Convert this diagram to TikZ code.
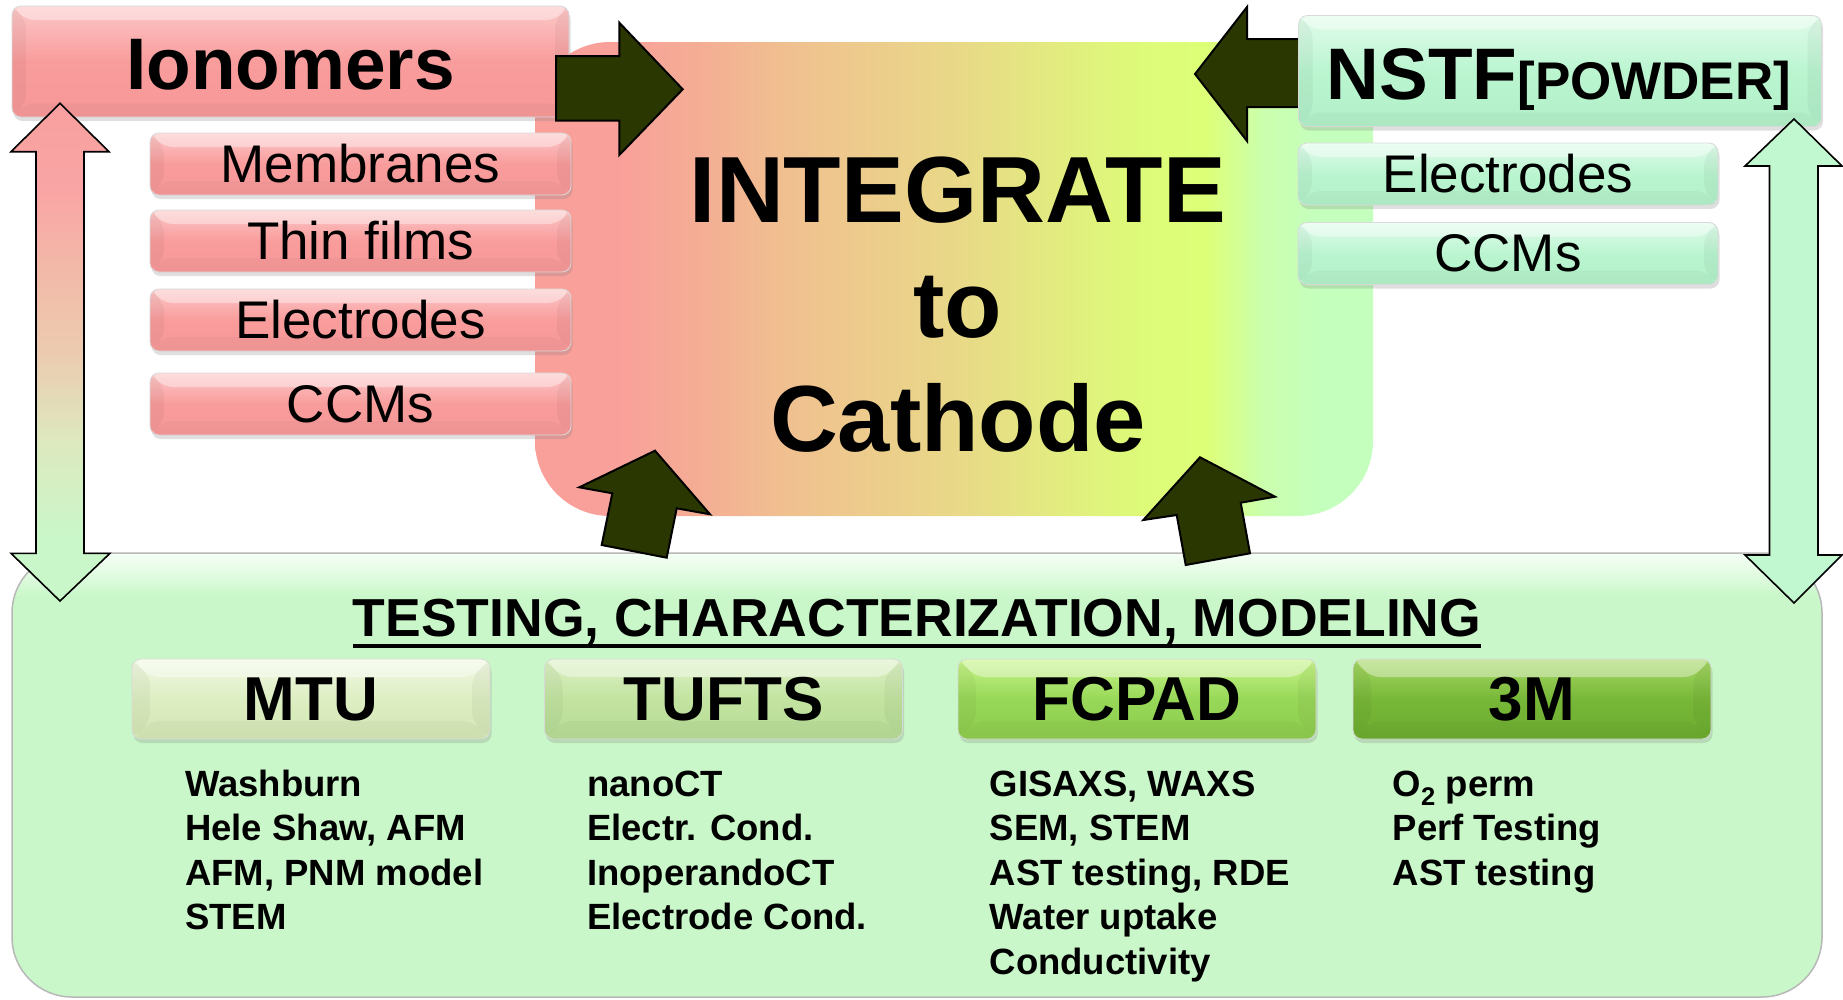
\documentclass[tikz,border=0pt]{standalone}
\usepackage{fontspec}
\setmainfont{Liberation Sans}
\usetikzlibrary{shadows,calc}
\newcommand\myfs[1]{\fontsize{#1}{#1}\selectfont}
% colours
\definecolor{pkA}{HTML}{FCC8C8}
\definecolor{pkB}{HTML}{F99C9C}
\definecolor{pkC}{HTML}{F79898}
\definecolor{mnA}{HTML}{E2FCEC}
\definecolor{mnB}{HTML}{BAF5D0}
\definecolor{mnC}{HTML}{B2F0C9}
\definecolor{mtuA}{HTML}{F2F9E4}
\definecolor{mtuB}{HTML}{DDEEC2}
\definecolor{mtuC}{HTML}{D3E7B4}
\definecolor{tufA}{HTML}{DDF1C6}
\definecolor{tufB}{HTML}{C2E4A0}
\definecolor{tufC}{HTML}{B7DB96}
\definecolor{fcA}{HTML}{C8F58A}
\definecolor{fcB}{HTML}{98D858}
\definecolor{fcC}{HTML}{8DCC4D}
\definecolor{tmA}{HTML}{A6D866}
\definecolor{tmB}{HTML}{78B838}
\definecolor{tmC}{HTML}{6CAB2F}
\definecolor{darkol}{HTML}{2B3700}
\definecolor{mintarrow}{HTML}{C2F8D0}
\definecolor{botgreen}{HTML}{C9F7C9}
\definecolor{botwhite}{HTML}{F6FFF6}
\definecolor{cpk}{HTML}{F9A09A}
\definecolor{csal}{HTML}{F4AE94}
\definecolor{ctan}{HTML}{F0C090}
\definecolor{cmid}{HTML}{E9D888}
\definecolor{cyg}{HTML}{DEF87A}
\definecolor{cyel}{HTML}{DDFF77}
\definecolor{cgl}{HTML}{CBFFAE}
\definecolor{cgr}{HTML}{C4FFBE}
\definecolor{laA}{HTML}{F9A0A0}
\definecolor{laB}{HTML}{F9A5A5}
\definecolor{laC}{HTML}{F3B8A8}
\definecolor{laD}{HTML}{ECCBB0}
\definecolor{laE}{HTML}{DDE9BF}
\definecolor{laF}{HTML}{C9F7C9}
\pgfdeclarehorizontalshading{centgrad}{100bp}{color(0bp)=(cpk); color(25bp)=(cpk); color(30bp)=(cpk); color(35bp)=(csal); color(40bp)=(ctan); color(50bp)=(cmid); color(60bp)=(cyg); color(65bp)=(cyel); color(68.5bp)=(cgl); color(72bp)=(cgr); color(100bp)=(cgr)}
\pgfdeclareverticalshading{botgrad}{100bp}{color(0bp)=(botgreen); color(25bp)=(botgreen); color(70bp)=(botgreen); color(75bp)=(botwhite); color(100bp)=(botwhite)}
\pgfdeclareverticalshading{leftgrad}{100bp}{color(0bp)=(laF); color(25bp)=(laF); color(31bp)=(laF); color(41bp)=(laE); color(50bp)=(laD); color(59bp)=(laC); color(66bp)=(laB); color(75bp)=(laA); color(100bp)=(laA)}
\tikzset{
  bevel/.style={path picture={
    \path (path picture bounding box.north west) coordinate (pNW)
          (path picture bounding box.north east) coordinate (pNE)
          (path picture bounding box.south west) coordinate (pSW)
          (path picture bounding box.south east) coordinate (pSE);
    \fill[white,opacity=.38] (pNW) -- (pNE) -- ([shift={(-#1,-#1)}]pNE) -- ([shift={(#1,-#1)}]pNW) -- cycle;
    \fill[black,opacity=.04] (pNW) -- ([shift={(#1,-#1)}]pNW) -- ([shift={(#1,#1)}]pSW) -- (pSW) -- cycle;
    \fill[black,opacity=.04] (pNE) -- ([shift={(-#1,-#1)}]pNE) -- ([shift={(-#1,#1)}]pSE) -- (pSE) -- cycle;
    \fill[black,opacity=.03] (pSW) -- ([shift={(#1,#1)}]pSW) -- ([shift={(-#1,#1)}]pSE) -- (pSE) -- cycle;
  }},
  box/.style={rectangle, rounded corners=9pt, draw=black!15, line width=0.8pt, inner sep=0pt,
    drop shadow={opacity=0.25, shadow xshift=1.5pt, shadow yshift=-4pt}},
  pinkbox/.style={box, top color=pkA, bottom color=pkC, middle color=pkB, bevel=14pt},
  mintbox/.style={box, top color=mnA, bottom color=mnC, middle color=mnB, bevel=14pt},
  subtxt/.style={font=\myfs{53}},
  headbox/.style={box, minimum width=358pt, minimum height=80pt, font=\myfs{62}\bfseries, bevel=18pt},
  itemtxt/.style={anchor=base west, inner sep=0pt, font=\myfs{36.5}\bfseries},
  bigtxt/.style={anchor=base, inner sep=0pt, font=\myfs{94}\bfseries},
  darkarrow/.style={fill=darkol, draw=black, line width=2pt},
  dblarrow/.style={draw=black, line width=1.6pt}
}
\begin{document}
\begin{tikzpicture}[x=1pt,y=-1pt]
\useasboundingbox (0,0) rectangle (1843,999);
\fill[white] (0,0) rectangle (1843,999);

% central box
\node[rectangle, shading=centgrad, rounded corners=75pt, minimum width=838pt, minimum height=474pt, inner sep=0pt] (cent) at (954,279) {};

% bottom box
\node[rectangle, shading=botgrad, rounded corners=60pt, draw=black!28, line width=1.5pt, minimum width=1810pt, minimum height=444pt, inner sep=0pt] (bot) at (917,775) {};

% Ionomers column
\node[pinkbox, minimum width=557pt, minimum height=111pt] (ion) at (290.5,61.5) {};
\node[anchor=base, inner sep=0pt, font=\myfs{73}\bfseries] (iontxt) at (290.5,89.5) {Ionomers};
\node[pinkbox, subtxt, minimum width=421pt, minimum height=62pt] (memb) at (360.5,164) {Membranes};
\node[pinkbox, subtxt, minimum width=421pt, minimum height=62pt] (thin) at (360.5,241) {Thin films};
\node[pinkbox, subtxt, minimum width=421pt, minimum height=62pt] (elec) at (360.5,320) {Electrodes};
\node[pinkbox, subtxt, minimum width=421pt, minimum height=62pt] (ccm) at (360.5,404) {CCMs};

% arrow Ionomers -> centre
\draw[darkarrow] (556,56) -- (619.3,56) -- (619.3,22.7) -- (682.7,89.3) -- (619.3,155) -- (619.3,120.7) -- (556,120.7) -- cycle;

% arrow NSTF -> centre
\draw[darkarrow] (1300,39) -- (1247,39) -- (1247,7) -- (1195,74) -- (1247,141) -- (1247,107) -- (1300,107) -- cycle;

% NSTF column
\node[mintbox, minimum width=523pt, minimum height=111pt] (nstf) at (1560,71) {};
\node[anchor=base, inner sep=0pt, font=\myfs{73}\bfseries] (nstftxt) at (1559,99) {NSTF{\myfs{53}[POWDER]}};
\node[mintbox, subtxt, minimum width=420pt, minimum height=62pt] (nelec) at (1508,174) {Electrodes};
\node[mintbox, subtxt, minimum width=420pt, minimum height=62pt] (nccm) at (1508,253.5) {CCMs};

% centre text
\node[bigtxt] (integ) at (958,222) {INTEGRATE};
\node[bigtxt] (to) at (958,337) {to};
\node[bigtxt] (cath) at (958,451) {Cathode};

% double arrows
\shadedraw[dblarrow, shading=leftgrad] (60,103.3) -- (109,151.7) -- (84,151.7) -- (84,553.3) -- (110,553.3) -- (60,601) -- (11,553.3) -- (36,553.3) -- (36,151.7) -- (11,151.7) -- cycle;
\filldraw[dblarrow, fill=mintarrow] (1794,119) -- (1842,166) -- (1818,166) -- (1818,555) -- (1842,555) -- (1794,603) -- (1745,555) -- (1769.5,555) -- (1769.5,166) -- (1745,166) -- cycle;

% tilted up arrows
\draw[darkarrow] (655,450.7) -- (710,514.3) -- (676.7,508.3) -- (666.7,557.7) -- (601.7,545) -- (612.3,493.3) -- (579.3,487.3) -- cycle;
\draw[darkarrow] (1200,457.3) -- (1275,496.7) -- (1240.7,502.7) -- (1250,553.3) -- (1185.7,565) -- (1176.7,515) -- (1143.3,520) -- cycle;

% title
\node[anchor=base, inner sep=0pt, font=\myfs{53.5}\bfseries] (title) at (917,636.7) {TESTING, CHARACTERIZATION, MODELING};
\draw[line width=4pt] ([yshift=-9pt]title.base west) -- ([yshift=-9pt]title.base east);

% headers
\node[headbox, top color=mtuA, bottom color=mtuC, middle color=mtuB] (mtu) at (311,699) {MTU};
\node[headbox, top color=tufA, bottom color=tufC, middle color=tufB] (tufts) at (723.5,699) {TUFTS};
\node[headbox, top color=fcA, bottom color=fcC, middle color=fcB] (fcpad) at (1137,699) {FCPAD};
\node[headbox, top color=tmA, bottom color=tmC, middle color=tmB] (threem) at (1532,699) {3M};

% items
\node[itemtxt] (m1) at (185,796) {Washburn};
\node[itemtxt] (m2) at (185,840.6) {Hele Shaw, AFM};
\node[itemtxt] (m3) at (185,885.2) {AFM, PNM model};
\node[itemtxt] (m4) at (185,929.8) {STEM};
\node[itemtxt] (t1) at (587,796) {nanoCT};
\node[itemtxt] (t2) at (587,840.6) {Electr. Cond.};
\node[itemtxt] (t3) at (587,885.2) {InoperandoCT};
\node[itemtxt] (t4) at (587,929.8) {Electrode Cond.};
\node[itemtxt] (f1) at (989.5,796) {GISAXS, WAXS};
\node[itemtxt] (f2) at (989.5,840.6) {SEM, STEM};
\node[itemtxt] (f3) at (989.5,885.2) {AST testing, RDE};
\node[itemtxt] (f4) at (989.5,929.8) {Water uptake};
\node[itemtxt] (f5) at (989.5,974.4) {Conductivity};
\node[itemtxt] (g1) at (1392.5,796) {O\textsubscript{2} perm};
\node[itemtxt] (g2) at (1392.5,840.6) {Perf Testing};
\node[itemtxt] (g3) at (1392.5,885.2) {AST testing};
\end{tikzpicture}
\end{document}
